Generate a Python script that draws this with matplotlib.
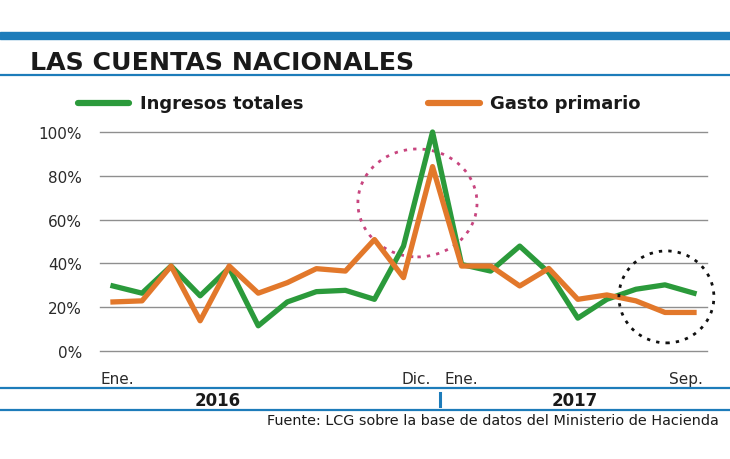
import matplotlib
matplotlib.use("Agg")
import matplotlib.pyplot as plt
from matplotlib.patches import Ellipse, Rectangle
from matplotlib.lines import Line2D

# --- data (monthly, Jan 2016 .. Sep 2017, % yoy) ---
months = ["Ene.", "Feb.", "Mar.", "Abr.", "May.", "Jun.", "Jul.", "Ago.", "Sep.", "Oct.", "Nov.", "Dic.",
          "Ene.", "Feb.", "Mar.", "Abr.", "May.", "Jun.", "Jul.", "Ago.", "Sep."]
ingresos = [29.7, 26.4, 38.8, 25.2, 38.0, 11.5, 22.4, 27.1, 27.7, 23.6, 47.9, 100.0,
            39.5, 36.5, 47.9, 35.8, 15.0, 23.6, 28.2, 30.2, 26.4]
gasto = [22.4, 22.9, 38.8, 13.8, 38.8, 26.4, 31.2, 37.6, 36.5, 50.9, 33.5, 84.2,
         38.8, 38.8, 29.7, 37.7, 23.6, 25.6, 22.9, 17.6, 17.6]
yticks = [0, 20, 40, 60, 80, 100]
ytick_labels = ["0%", "20%", "40%", "60%", "80%", "100%"]
shown_ticks = [0, 11, 12, 20]
years = ["2016", "2017"]

GREEN = "#2b9a3b"
ORANGE = "#e2782b"
BLUE = "#1d7cba"
INK = "#1a1a1a"
W, H = 730, 460

def fx(p):
    return p / W

def fy(p):
    return 1 - p / H

fig = plt.figure(figsize=(7.3, 4.6), dpi=100)
fig.patch.set_facecolor("white")

ax = fig.add_axes([fx(100), fy(352), fx(707) - fx(100), fy(133) - fy(352)])
ax.set_xlim(-0.447, 20.447)
ax.set_ylim(0, 100)
for s in ax.spines.values():
    s.set_visible(False)
ax.set_yticks(yticks)
ax.set_yticklabels(ytick_labels, fontsize=11, color="#2a2a2a")
ax.tick_params(axis="y", length=0, pad=13)
ax.yaxis.grid(True, color="#8f8f8f", linewidth=1.0)
for gl in ax.get_ygridlines():
    gl.set_clip_on(False)
ax.set_axisbelow(True)
ax.set_xticks([])

x = list(range(len(months)))
ax.plot(x, ingresos, color=GREEN, linewidth=3.8, clip_on=False, zorder=3)
ax.plot(x, gasto, color=ORANGE, linewidth=3.8, clip_on=False, zorder=4)

# x labels
for i in shown_ticks:
    ha = "center"
    dx = 0
    if i == 0:
        dx = 0.15
    if i == 11:
        ha, dx = "right", -0.05
    if i == 20:
        ha, dx = "right", 0.3
    ax.annotate(months[i], xy=(i + dx, 0), xycoords=("data", "axes fraction"),
                xytext=(0, -20), textcoords="offset points", ha=ha, va="center",
                fontsize=11, color="#2a2a2a")

# highlight circles
ax.add_patch(Ellipse((10.48, 67.6), 4.1, 49.3, fill=False, edgecolor="#c8457f",
                     linewidth=2, linestyle=(0, (1.2, 2.2)), clip_on=False, zorder=2))
ax.add_patch(Ellipse((19.05, 24.7), 3.27, 42, fill=False, edgecolor="#111111",
                     linewidth=2, linestyle=(0, (1.2, 2.2)), clip_on=False, zorder=5))

# header
fig.add_artist(Rectangle((0, fy(40)), 1, 7 / H, transform=fig.transFigure, color=BLUE))
fig.text(fx(30), fy(63), "LAS CUENTAS NACIONALES", fontsize=18.2, fontweight="heavy",
         color=INK, va="center", ha="left")
fig.add_artist(Line2D([0, 1], [fy(75.5), fy(75.5)], transform=fig.transFigure, color=BLUE, linewidth=1.6))

# legend
fig.add_artist(Line2D([fx(78), fx(129)], [fy(104), fy(104)], transform=fig.transFigure,
                      color=GREEN, linewidth=4.5, solid_capstyle="round"))
fig.text(fx(140), fy(104), "Ingresos totales", fontsize=13, fontweight="bold",
         color=INK, va="center", ha="left")
fig.add_artist(Line2D([fx(428), fx(480)], [fy(104), fy(104)], transform=fig.transFigure,
                      color=ORANGE, linewidth=4.5, solid_capstyle="round"))
fig.text(fx(490), fy(104), "Gasto primario", fontsize=13, fontweight="bold",
         color=INK, va="center", ha="left")

# year band
fig.add_artist(Line2D([0, 1], [fy(389), fy(389)], transform=fig.transFigure, color=BLUE, linewidth=1.6))
fig.add_artist(Line2D([0, 1], [fy(411), fy(411)], transform=fig.transFigure, color=BLUE, linewidth=1.6))
fig.add_artist(Line2D([fx(440), fx(440)], [fy(394), fy(407)], transform=fig.transFigure, color=BLUE, linewidth=2.2))
fig.text(fx(218), fy(401), years[0], fontsize=12, fontweight="bold", color=INK, ha="center", va="center")
fig.text(fx(575), fy(401), years[1], fontsize=12, fontweight="bold", color=INK, ha="center", va="center")

fig.text(fx(719), fy(421), "Fuente: LCG sobre la base de datos del Ministerio de Hacienda",
         fontsize=10.4, color=INK, ha="right", va="center")

fig.savefig("out.png", dpi=100, facecolor="white")
